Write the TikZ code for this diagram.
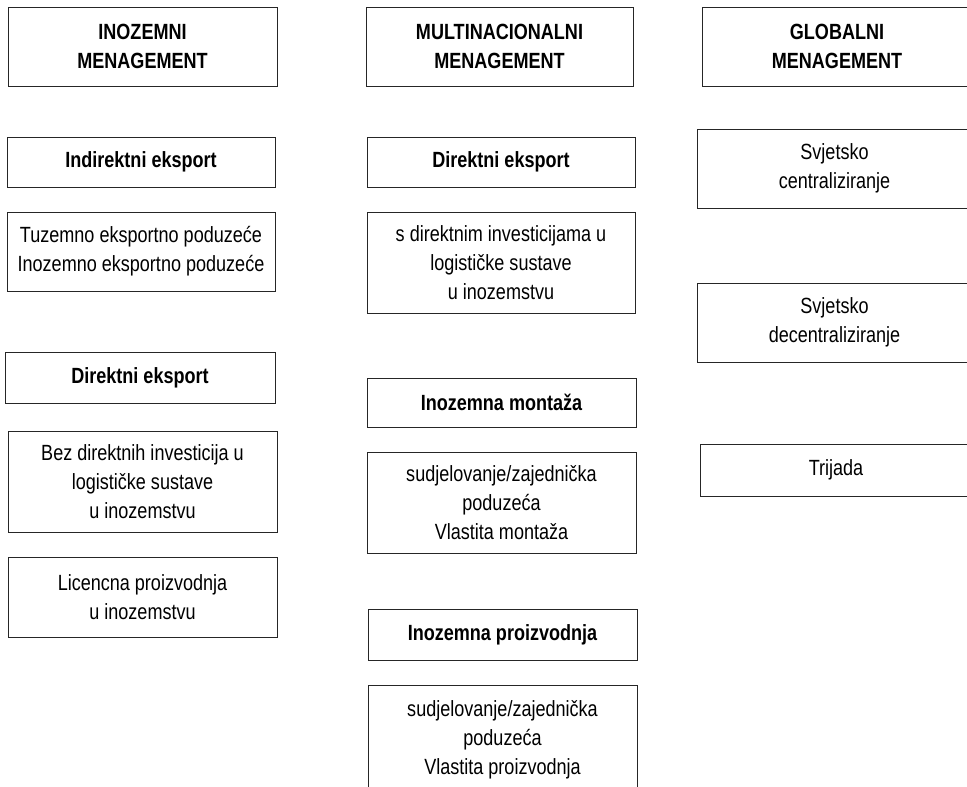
\documentclass[tikz,border=0pt]{standalone}
\usepackage{fontspec}
\setmainfont{Liberation Sans}[FakeStretch=0.82]
\begin{document}
\begin{tikzpicture}[x=0.75pt,y=-0.75pt,
  bx/.style n args={2}{draw=black!85, line width=0.6pt, align=center, inner sep=0pt,
    minimum width={#1*0.75pt}, minimum height={#2*0.75pt},
    font=\fontsize{16.5pt}{21.75pt}\selectfont},
  hd/.style={font=\fontsize{16.5pt}{21.75pt}\selectfont\bfseries}]
\useasboundingbox (0,0) rectangle (967,786);
% column 1
\node[bx={269}{79}, hd] (h1) at (142.5,46.5) {INOZEMNI\\MENAGEMENT};
\node[bx={268}{50}, hd] (a1) at (141,162) {Indirektni eksport};
\node[bx={268}{79}] (a2) at (141,251.5) {Tuzemno eksportno poduzeće\\Inozemno eksportno poduzeće};
\node[bx={270}{51}, hd] (a3) at (140,377.5) {Direktni eksport};
\node[bx={269}{101}] (a4) at (142.5,481.5) {Bez direktnih investicija u\\logističke sustave\\u inozemstvu};
\node[bx={269}{80}] (a5) at (142.5,597) {Licencna proizvodnja\\u inozemstvu};
% column 2
\node[bx={267}{79}, hd] (h2) at (499.5,46.5) {MULTINACIONALNI\\MENAGEMENT};
\node[bx={268}{50}, hd] (b1) at (501,162) {Direktni eksport};
\node[bx={268}{101}] (b2) at (501,262.5) {s direktnim investicijama u\\logističke sustave\\u inozemstvu};
\node[bx={269}{49}, hd] (b3) at (501.5,402.5) {Inozemna montaža};
\node[bx={269}{101}] (b4) at (501.5,502.5) {sudjelovanje/zajednička\\poduzeća\\Vlastita montaža};
\node[bx={269}{51}, hd] (b5) at (502.5,634.5) {Inozemna proizvodnja};
\node[bx={269}{110}] (b6) at (502.5,740) {sudjelovanje/zajednička\\poduzeća\\Vlastita proizvodnja};
% column 3 (right edges run off the page)
\node[bx={270}{79}, hd] (h3) at (837,46.5) {GLOBALNI\\MENAGEMENT};
\node[bx={275}{79}] (c1) at (834.5,168.5) {Svjetsko\\centraliziranje};
\node[bx={275}{79}] (c2) at (834.5,322.5) {Svjetsko\\decentraliziranje};
\node[bx={272}{52}] (c3) at (836,470) {Trijada};
\end{tikzpicture}
\end{document}
